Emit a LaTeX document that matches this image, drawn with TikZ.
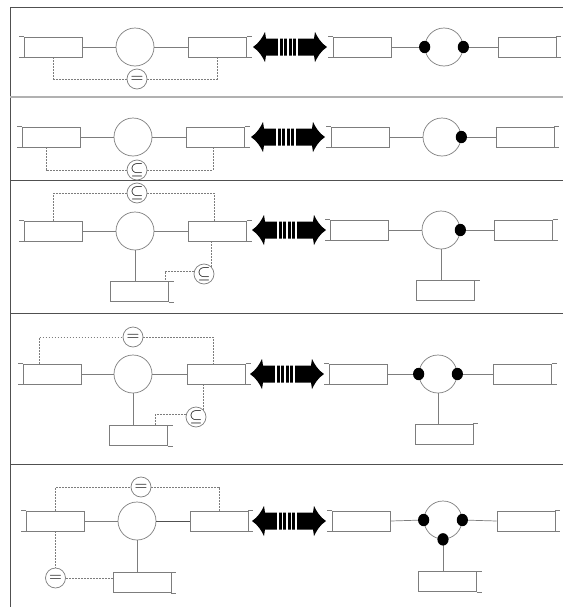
\documentclass[tikz,border=0pt]{standalone}
\usetikzlibrary{shapes.geometric}

\definecolor{grigio}{RGB}{125,125,125}
\definecolor{grigioscuro}{RGB}{80,80,80}

\begin{document}
\begin{tikzpicture}[
  x=0.25mm, y=-0.25mm,
  filo/.style={draw=grigio, line width=0.5pt},
  tratteggio/.style={draw=grigio, line width=0.5pt, dash pattern=on 0.45mm off 0.3mm},
  bordo/.style={draw=grigioscuro, line width=0.6pt},
  cella/.style={draw=grigio, line width=0.5pt, rectangle, inner sep=0pt, minimum width=14.5mm, minimum height=5mm},
  cerchio/.style={draw=grigio, line width=0.5pt, circle, inner sep=0pt, minimum size=9.5mm},
  relazione/.style={draw=grigio, line width=0.5pt, circle, inner sep=0pt, minimum size=5mm, font=\large},
  punto/.style={ellipse, fill=black, inner sep=0pt, minimum width=2.8mm, minimum height=3.1mm},
  freccia/.pic={
    \fill[black] (-37,0) .. controls (-31,-4) and (-28,-9) .. (-25,-15) -- (-24,-8.5) -- (24,-8.5)
      -- (25,-15) .. controls (28,-9) and (31,-4) .. (37,0)
      .. controls (31,4) and (28,9) .. (25,15) -- (24,8.5) -- (-24,8.5)
      -- (-25,15) .. controls (-28,9) and (-31,4) .. (-37,0) -- cycle;
    \foreach \g in {-11,-6.5,-2,2.5,7}
      \fill[white] (\g-0.8,-9) rectangle (\g+0.8,9);
  }
]
\useasboundingbox (0,0) rectangle (563,607);

%--------------------------------------------------------------
% Cornice e separatori
%--------------------------------------------------------------
\draw[bordo] (10,7) -- (10,607);
\draw[bordo] (10,7) -- (563,7);
\draw[bordo, draw=grigio!60, line width=1pt] (10,97) -- (563,97);
\draw[bordo] (10,180) -- (563,180);
\draw[bordo] (10,313) -- (563,313);
\draw[bordo] (10,464) -- (563,464);

%--------------------------------------------------------------
% Riga 1: due celle, relazione =
%--------------------------------------------------------------
\node[cella] (sin1) at (53.5,47) {};
\node[cerchio] (cen1) at (135,47) {};
\node[cella] (des1) at (217.5,47) {};
\node[relazione] (rel1) at (137,79) {$=$};
\draw[filo] (sin1.north west) -- ++(-5,0) (sin1.south west) -- ++(-5,0);
\draw[filo] (des1.north east) -- ++(5,0) (des1.south east) -- ++(5,0);
\draw[filo] (sin1.east) -- (cen1.west);
\draw[filo] (cen1.east) -- (des1.west);
\draw[tratteggio] (sin1.south) |- (rel1.west);
\draw[tratteggio] (rel1.east) -| (des1.south);
\pic at (290,47) {freccia};
% risultato
\node[cella] (rsin1) at (362.5,47) {};
\node[cerchio] (rcen1) at (444,47) {};
\node[cella] (rdes1) at (527,47) {};
\draw[filo] (rsin1.north west) -- ++(-5,0) (rsin1.south west) -- ++(-5,0);
\draw[filo] (rdes1.north east) -- ++(5,0) (rdes1.south east) -- ++(5,0);
\draw[filo] (rsin1.east) -- (rcen1.west);
\draw[filo] (rcen1.east) -- (rdes1.west);
\node[punto] (pun1a) at (rcen1.west) {};
\node[punto] (pun1b) at (rcen1.east) {};

%--------------------------------------------------------------
% Riga 2: due celle, relazione di inclusione
%--------------------------------------------------------------
\node[cella] (sin2) at (51.5,137) {};
\node[cerchio] (cen2) at (133,137) {};
\node[cella] (des2) at (215.5,137) {};
\node[relazione] (rel2) at (137,170) {$\subseteq$};
\draw[filo] (sin2.north west) -- ++(-5,0) (sin2.south west) -- ++(-5,0);
\draw[filo] (des2.north east) -- ++(5,0) (des2.south east) -- ++(5,0);
\draw[filo] (sin2.east) -- (cen2.west);
\draw[filo] (cen2.east) -- (des2.west);
\draw[tratteggio] ([xshift=-1.4mm]sin2.south) |- (rel2.west);
\draw[tratteggio] (rel2.east) -| ([xshift=-0.6mm]des2.south);
\pic at (288,137) {freccia};
% risultato
\node[cella] (rsin2) at (360,137) {};
\node[cerchio] (rcen2) at (442,137) {};
\node[cella] (rdes2) at (525,137) {};
\draw[filo] (rsin2.north west) -- ++(-5,0) (rsin2.south west) -- ++(-5,0);
\draw[filo] (rdes2.north east) -- ++(5,0) (rdes2.south east) -- ++(5,0);
\draw[filo] (rsin2.east) -- (rcen2.west);
\draw[filo] (rcen2.east) -- (rdes2.west);
\node[punto] (pun2) at (rcen2.east) {};

%--------------------------------------------------------------
% Riga 3: tre celle, due inclusioni
%--------------------------------------------------------------
\node[cella] (sin3) at (53.5,231) {};
\node[cerchio] (cen3) at (135,231) {};
\node[cella] (des3) at (217.5,231) {};
\node[cella] (sot3) at (139.5,291.5) {};
\node[relazione] (rel3a) at (137,193) {$\subseteq$};
\node[relazione] (rel3b) at (204,274) {$\subseteq$};
\draw[filo] (sin3.north west) -- ++(-5,0) (sin3.south west) -- ++(-5,0);
\draw[filo] (des3.north east) -- ++(5,0) (des3.south east) -- ++(5,0);
\draw[filo] (sot3.north east) -- ++(5,0) (sot3.south east) -- ++(5,0);
\draw[filo] (sin3.east) -- (cen3.west);
\draw[filo] (cen3.east) -- (des3.west);
\draw[filo] (cen3.south) -- (cen3.south |- sot3.north);
\draw[tratteggio] (sin3.north) |- (rel3a.west);
\draw[tratteggio] (rel3a.east) -| ([xshift=-0.9mm]des3.north);
\draw[tratteggio] (rel3b.45) -- (rel3b.45 |- des3.south);
\draw[tratteggio] (rel3b.165) -| ([xshift=-1mm]sot3.north east);
\pic at (289,230) {freccia};
% risultato
\node[cella] (rsin3) at (359,230) {};
\node[cerchio] (rcen3) at (441,230) {};
\node[cella] (rdes3) at (523.5,230) {};
\node[cella] (rsot3) at (445.5,290.5) {};
\draw[filo] (rsin3.north west) -- ++(-5,0) (rsin3.south west) -- ++(-5,0);
\draw[filo] (rdes3.north east) -- ++(5,0) (rdes3.south east) -- ++(5,0);
\draw[filo] (rsot3.north east) -- ++(5,0);
\draw[filo] (rsin3.east) -- (rcen3.west);
\draw[filo] (rcen3.east) -- (rdes3.west);
\draw[filo] (rcen3.south) -- (rcen3.south |- rsot3.north);
\node[punto] (pun3) at (rcen3.east) {};

%--------------------------------------------------------------
% Riga 4: tre celle, uguaglianza e inclusione
%--------------------------------------------------------------
\node[cella] (sin4) at (52.5,374) {};
\node[cerchio] (cen4) at (133,374) {};
\node[cella] (des4) at (216.5,374) {};
\node[cella] (sot4) at (138.5,435.5) {};
\node[relazione] (rel4a) at (133,337) {$=$};
\node[relazione] (rel4b) at (196,417) {$\subseteq$};
\draw[filo] (sin4.north west) -- ++(-5,0) (sin4.south west) -- ++(-5,0);
\draw[filo] (des4.north east) -- ++(5,0) (des4.south east) -- ++(5,0);
\draw[filo] (sot4.north east) -- ++(5,0) (sot4.south east) -- ++(5,0);
\draw[filo] (sin4.east) -- (cen4.west);
\draw[filo] (cen4.east) -- (des4.west);
\draw[filo] (cen4.south) -- (cen4.south |- sot4.north);
\draw[tratteggio] ([xshift=4mm]sin4.north west) |- (rel4a.west);
\draw[tratteggio] (rel4a.east) -| ([xshift=-0.9mm]des4.north);
\draw[tratteggio] (rel4b.45) -- (rel4b.45 |- des4.south);
\draw[tratteggio] (rel4b.165) -| ([xshift=-3.1mm]sot4.north east);
\pic at (287,374) {freccia};
% risultato
\node[cella] (rsin4) at (358,374) {};
\node[cerchio] (rcen4) at (438,374) {};
\node[cella] (rdes4) at (522.5,374) {};
\node[cella] (rsot4) at (444,434) {};
\draw[filo] (rsin4.north west) -- ++(-5,0) (rsin4.south west) -- ++(-5,0);
\draw[filo] (rdes4.north east) -- ++(5,0) (rdes4.south east) -- ++(5,0);
\draw[filo] (rsot4.north east) -- ++(5,0);
\draw[filo] (rsin4.east) -- (rcen4.west);
\draw[filo] (rcen4.east) -- (rdes4.west);
\draw[filo] (rcen4.south) -- (rcen4.south |- rsot4.north);
\node[punto] (pun4a) at (rcen4.west) {};
\node[punto] (pun4b) at (rcen4.east) {};

%--------------------------------------------------------------
% Riga 5: tre celle, due uguaglianze
%--------------------------------------------------------------
\node[cella] (sin5) at (55.5,521) {};
\node[cerchio] (cen5) at (137,521) {};
\node[cella] (des5) at (219,521) {};
\node[cella] (sot5) at (142,582.5) {};
\node[relazione] (rel5a) at (141,487) {$=$};
\node[relazione] (rel5b) at (55.5,578) {$=$};
\draw[filo] (sin5.north west) -- ++(-5,0) (sin5.south west) -- ++(-5,0);
\draw[filo] (des5.north east) -- ++(5,0) (des5.south east) -- ++(5,0);
\draw[filo] (sot5.north east) -- ++(5,0) (sot5.south east) -- ++(5,0);
\draw[filo] (sin5.east) -- (cen5.west);
\draw[filo, draw=grigioscuro] (cen5.east) -- (des5.west);
\draw[filo] (cen5.south) -- (cen5.south |- sot5.north);
\draw[tratteggio] (sin5.north) |- (rel5a.west);
\draw[tratteggio] (rel5a.east) -| (des5.north);
\draw[tratteggio] (sin5.south) -- (rel5b.north);
\draw[tratteggio] (rel5b.east) -- (rel5b.east -| sot5.west);
\pic at (289,521) {freccia};
% risultato
\node[cella] (rsin5) at (361.5,521) {};
\node[cerchio] (rcen5) at (443,520) {};
\node[cella] (rdes5) at (526,521) {};
\node[cella] (rsot5) at (447.5,581.5) {};
\draw[filo] (rsin5.north west) -- ++(-5,0) (rsin5.south west) -- ++(-5,0);
\draw[filo] (rdes5.north east) -- ++(5,0) (rdes5.south east) -- ++(5,0);
\draw[filo] (rsot5.north east) -- ++(5,0) (rsot5.south east) -- ++(5,0);
\draw[filo] (rsin5.east) -- (rcen5.west);
\draw[filo] (rcen5.east) -- (rdes5.west);
\draw[filo] (rcen5.south) -- (rcen5.south |- rsot5.north);
\node[punto] (pun5a) at (rcen5.west) {};
\node[punto] (pun5b) at (rcen5.east) {};
\node[punto] (pun5c) at (rcen5.south) {};

\end{tikzpicture}
\end{document}
